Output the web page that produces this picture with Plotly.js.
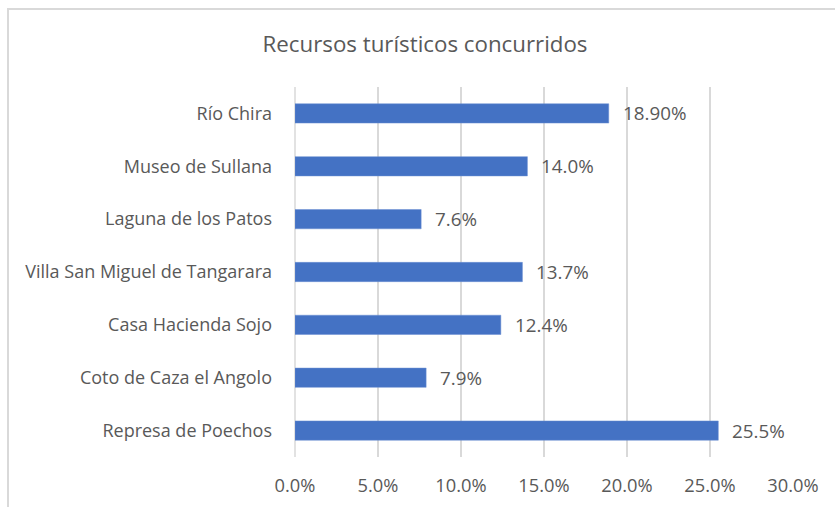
<!DOCTYPE html>
<html>
<head>
<meta charset="utf-8">
<script src="https://cdn.plot.ly/plotly-3.0.1.min.js"></script>
<style>
html,body{margin:0;padding:0;background:#fff;}
#chart{width:835px;height:507px;}
</style>
</head>
<body>
<div id="chart"></div>
<script>
const categories = ["Río Chira", "Museo de Sullana", "Laguna de los Patos", "Villa San Miguel de Tangarara", "Casa Hacienda Sojo", "Coto de Caza el Angolo", "Represa de Poechos"];
const values = [0.189, 0.140, 0.076, 0.137, 0.124, 0.079, 0.255];
const valueLabels = ["18.90%", "14.0%", "7.6%", "13.7%", "12.4%", "7.9%", "25.5%"];
const tickVals = [0, 0.05, 0.10, 0.15, 0.20, 0.25, 0.30];
const tickText = ["0.0%", "5.0%", "10.0%", "15.0%", "20.0%", "25.0%", "30.0%"];

const FONT = "'Open Sans', Lato, sans-serif";
const TXT = "#595959";

const trace = {
  type: "bar",
  orientation: "h",
  y: categories,
  x: values,
  marker: {color: "#4472C4", line: {color: "#6a8fd2", width: 0.5}},
  width: 0.365,
  hoverinfo: "none"
};

const annotations = categories.map((c, i) => ({
  x: values[i], y: c, xref: "x", yref: "y",
  text: valueLabels[i],
  showarrow: false,
  xanchor: "left", yanchor: "middle",
  xshift: 12, yshift: 0,
  font: {family: FONT, size: 18.8, color: TXT}
}));

const layout = {
  width: 835, height: 507,
  margin: {l: 295, r: 42, t: 87, b: 50},
  paper_bgcolor: "#ffffff",
  plot_bgcolor: "#ffffff",
  showlegend: false,
  title: {
    text: "Recursos turísticos concurridos",
    font: {family: FONT, size: 22.3, color: TXT},
    x: 0.509, xref: "container", xanchor: "center",
    y: 1 - 44/507, yref: "container", yanchor: "middle"
  },
  xaxis: {
    range: [0, 0.30],
    tickvals: tickVals,
    ticktext: tickText,
    showgrid: true,
    gridcolor: "#d9d9d9",
    gridwidth: 1.5,
    zeroline: false,
    showline: false,
    ticks: "",
    ticklabelstandoff: 16,
    tickfont: {family: FONT, size: 18.3, color: TXT},
    fixedrange: true
  },
  yaxis: {
    type: "category",
    autorange: "reversed",
    showgrid: false,
    zeroline: false,
    showline: false,
    ticks: "",
    ticklabelstandoff: 22,
    tickfont: {family: FONT, size: 18, color: TXT},
    fixedrange: true
  },
  annotations: annotations,
  shapes: [{
    type: "rect", xref: "paper", yref: "paper",
    x0: (8 - 295) / 498, x1: (900 - 295) / 498,
    y0: (457 - 560) / 370, y1: (457 - 9) / 370,
    line: {color: "#d9d9d9", width: 2},
    fillcolor: "rgba(0,0,0,0)",
    layer: "below"
  }, {
    type: "line", xref: "paper", yref: "paper",
    x0: 0, x1: 0, y0: 0, y1: 1,
    line: {color: "#d9d9d9", width: 1.5},
    layer: "below"
  }]
};

Plotly.newPlot("chart", [trace], layout, {displayModeBar: false, staticPlot: true});
</script>
</body>
</html>
